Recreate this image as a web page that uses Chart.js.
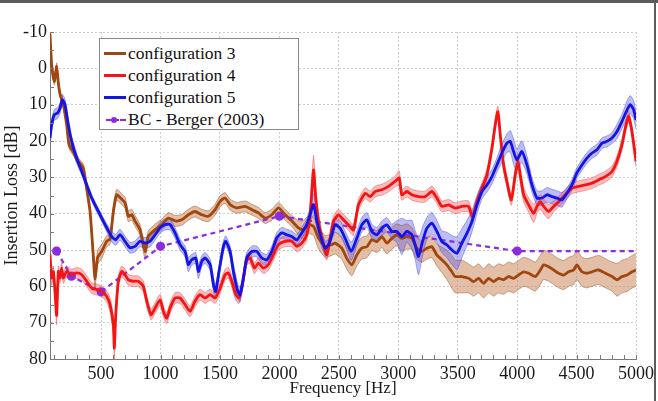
<!DOCTYPE html>
<html>
<head>
<meta charset="utf-8">
<script src="https://cdn.jsdelivr.net/npm/chart.js@4.4.1/dist/chart.umd.min.js"></script>
<style>
  html, body { margin:0; padding:0; background:#fff; }
  #wrap { position:relative; width:658px; height:401px; overflow:hidden; }
  #c { position:absolute; left:0; top:0; }
  .frameTop { position:absolute; left:0; top:0; width:658px; height:3px; background:#5c5c5c; }
  .frameRight { position:absolute; left:654px; top:0; width:2px; height:401px; background:#5c5c5c; }
  #legend { position:absolute; left:99px; top:38px; width:198px; height:90px; border:1px solid #8a8a8a; background:#fff;
            font-family:'Liberation Serif'; font-size:17.5px; color:#111; }
  .row { position:absolute; left:0; height:20px; width:196px; }
  .row .txt { position:absolute; left:28px; top:0; line-height:20px; white-space:nowrap; font-family:'Liberation Serif'; }
  .row .ln { position:absolute; left:4px; top:9px; width:22px; height:0; border-top:3px solid; }
  .row .dash { position:absolute; left:6px; top:10px; width:20px; height:0; border-top:2px dashed #8C2BE0; }
  .row .dot { position:absolute; left:11px; top:8px; width:6px; height:6px; border-radius:3px; background:#8C2BE0; }
</style>
</head>
<body>
<div id="wrap">
  <canvas id="c" width="658" height="401"></canvas>
  <div id="legend">
    <div class="row" style="top:4px"><div class="ln" style="border-color:#A0460F"></div><div class="txt">configuration 3</div></div>
    <div class="row" style="top:26px"><div class="ln" style="border-color:#F51414"></div><div class="txt">configuration 4</div></div>
    <div class="row" style="top:48px"><div class="ln" style="border-color:#1414E6"></div><div class="txt">configuration 5</div></div>
    <div class="row" style="top:70px"><div class="dash"></div><div class="dot"></div><div class="txt">BC - Berger (2003)</div></div>
  </div>
  <div class="frameTop"></div>
  <div class="frameRight"></div>
</div>
<script>
// ---------------- data ----------------
const xTicks = [500,1000,1500,2000,2500,3000,3500,4000,4500,5000];
const yTicks = [-10,0,10,20,30,40,50,60,70,80];

// configuration 3 (brown)
const freq3 = [70,84,106,126,140,154,182,210,230,266,
  308,350,378,407,435,449,471,505,547,575,
  603,631,673,701,729,757,785,827,870,898,
  954,1010,1066,1122,1178,1234,1290,1347,1403,1459,
  1501,1543,1585,1641,1711,1768,1824,1880,1936,1992,
  2048,2104,2160,2202,2245,2287,2329,2385,2441,2469,
  2525,2567,2609,2651,2693,2736,2778,2820,2862,2904,
  2946,2988,3030,3072,3114,3156,3198,3241,3283,3325,
  3367,3409,3451,3479,3535,3591,3633,3676,3718,3760,
  3802,3844,3886,3928,3970,4012,4055,4097,4153,4195,
  4223,4265,4307,4349,4391,4433,4475,4503,4545,4587,
  4630,4686,4742,4798,4840,4882,4925,4966,5000];
const il3 = [-9.5,-1,3.6,-0.5,4,7,10,15.5,21,23,
  25.6,27.4,33,39.4,52,58,52,50.4,47.6,47,
  39.4,34.8,36,37,40.7,40.3,42,44.4,50.4,46.2,
  44.4,43,41.2,42,41.7,40.3,39.4,40.3,40.7,38.9,
  36.6,35.7,37.5,38.4,38,38.9,39.8,41.2,40.3,38.4,
  40.3,42,43.9,44.4,43,43.5,46.7,49,48.5,48.1,
  49.5,52.3,54.1,51.4,49.5,49.1,47.2,47.7,46.3,48.1,
  46.8,45.8,46.8,46.3,46.8,49.5,50.4,49.5,49.1,51.4,
  52.7,54.1,56,57.3,57.3,57.8,58.7,57.8,59.2,57.8,
  58.7,57.8,58.2,57.3,57.8,56.9,56,56.4,57.3,55.5,
  54.1,54.6,55.5,56.4,56.9,56,55.5,54.1,56,56.4,
  56,55.5,56.4,57.3,58.2,57.3,56.9,56,55.5];
const sd3 = [1,1,1,1,1,1,1,1,1,1,
  1,1,1,1,2,2.5,2,2,1.5,1.5,
  1.5,1.5,1.5,1.5,1.5,1.5,1.5,1.5,2,1.5,
  1.5,1.5,1.5,1.5,1.5,1.5,1.5,1.5,1.5,1.5,
  1.5,1.5,1.5,1.5,1.5,1.5,1.5,1.5,1.5,1.5,
  1.5,1.5,2,2.5,2.5,2.5,3,3,3,3,
  3,3,3,3,3,3,3,3,3,3,
  3,3,3.5,3.5,3,3,3,3,3,3,
  3.5,4,4.5,4.5,4.5,4,4,4,4,4,
  4,4,4,4,4,4,4,4,4,4,
  4,4,4,4,4,4,4,4,4,4,
  4,4,4,4,4.5,4.5,4.5,4.5,4.5];

// configuration 4 (red)
const freq4 = [70,84,98,112,126,140,154,168,182,210,
  252,294,337,379,421,463,505,547,575,603,
  611,623,645,673,701,729,771,813,855,884,
  920,954,996,1024,1052,1080,1122,1164,1206,1248,
  1290,1332,1375,1417,1459,1501,1543,1571,1599,1633,
  1661,1689,1725,1753,1790,1824,1866,1908,1950,1992,
  2048,2104,2146,2188,2230,2258,2287,2306,2334,2371,
  2399,2427,2455,2497,2525,2581,2623,2665,2722,2764,
  2806,2862,2918,2974,3008,3030,3072,3114,3170,3227,
  3283,3325,3367,3423,3479,3535,3591,3625,3662,3704,
  3746,3788,3816,3838,3858,3886,3914,3951,3984,4007,
  4026,4055,4097,4139,4167,4195,4223,4265,4307,4349,
  4405,4461,4517,4573,4630,4686,4742,4798,4840,4882,
  4910,4938,4966,5000];
const il4 = [51.3,57.7,55.9,61.4,68,55.9,57.7,55,57.7,55.9,
  56.8,56.3,56.8,58.6,60.5,60.9,61.4,62.8,65,70.6,
  77,67.9,58.6,55.9,56.8,58.2,58.6,58.6,60,64.1,
  67.8,66,63.7,66.9,68.8,66,63.2,63.2,65,66.9,
  64.1,62.3,63.2,62.3,63.2,60.5,56.8,56.3,58.6,62.3,
  63.2,59.5,52.7,52.2,55,53.6,55,54,51.3,48.5,
  47.6,47.6,49,48.1,45.8,40.3,28,35.7,43,48.5,
  51.3,46.7,42.1,40.3,41.2,43.1,44.5,37.6,34.4,35.3,
  33.9,33.4,32.5,31.1,30.2,34.8,33.9,34.8,35.3,35.3,
  33.9,35.7,38,37.6,38.5,38,38,40.8,36.7,33,
  29.3,22,15.5,11.9,18.3,26.6,31.2,36.2,29.3,25.6,
  29.3,34.8,37.6,39.9,38,36.7,38,39.4,38,36.7,
  34.8,33,32.5,32.1,31.6,30.7,29.8,28.4,25.6,21,
  16.5,13.2,17.4,25.6];
const sd4 = [1.5,2,1.5,2,2.5,1.5,1.5,1.5,1.5,1.5,
  1.5,1.5,1.5,1.5,1.5,1.5,1.5,1.5,2,2.5,
  3,2.5,1.5,1.5,1.5,1.5,1.5,1.5,1.5,1.5,
  1.5,1.5,1.5,1.5,1.5,1.5,1.5,1.5,1.5,1.5,
  1.5,1.5,1.5,1.5,1.5,1.5,1.5,1.5,1.5,1.5,
  1.5,1.5,1.5,1.5,1.5,1.5,1.5,1.5,1.5,1.5,
  1.5,1.5,1.5,1.5,1.5,2,4,2.5,1.5,1.5,
  1.5,1.5,1.5,1.5,1.5,1.5,1.5,1.5,1.5,1.5,
  1.5,1.5,1.5,1.5,2,1.5,1.5,1.5,1.5,1.5,
  1.5,1.5,1.5,1.5,1.5,1.5,1.5,1.5,1.5,1.5,
  1.5,1.5,1.5,1.5,1.5,1.5,1.5,1.5,2,2,
  2,2,2,2.5,2,2,2,2,1.5,1.5,
  1.5,1.5,1.5,1.5,1.5,1.5,1.5,1.5,1.5,1.5,
  1.5,1.5,1.5,1.5];

// configuration 5 (blue)
const freq5 = [70,84,106,134,154,174,196,224,252,294,
  337,379,421,477,533,589,623,659,701,743,
  785,827,870,912,954,996,1038,1080,1122,1164,
  1206,1234,1262,1296,1318,1347,1375,1417,1445,1464,
  1492,1529,1549,1585,1613,1650,1669,1697,1725,1768,
  1810,1852,1894,1936,1978,2020,2062,2104,2146,2188,
  2230,2258,2287,2315,2351,2385,2413,2441,2469,2511,
  2553,2604,2651,2693,2736,2778,2820,2862,2904,2946,
  2988,3030,3072,3114,3142,3170,3204,3241,3283,3325,
  3367,3409,3451,3493,3535,3577,3619,3662,3704,3746,
  3788,3830,3872,3914,3942,3970,3998,4040,4083,4125,
  4167,4209,4251,4293,4335,4377,4419,4461,4503,4545,
  4587,4630,4672,4714,4756,4798,4840,4882,4925,4952,
  4980,5000];
const il5 = [19.2,15.5,12.8,12.3,11,8.7,10,15.5,20.1,24.7,
  28.4,32.1,35.7,39.4,43,46.3,47.2,45.8,47.6,49.4,
  49,47.6,48.1,47.6,45.8,43.9,43,43,45.3,48.5,
  50.4,54,52.7,52.2,55.9,53.1,52.2,54,59.5,61.4,
  55.9,49,47.6,50.4,55.9,61.4,62.3,57.7,52.2,50.4,
  50.4,52.2,52.7,50.4,46.7,45.3,45.8,46.3,47.2,45.3,
  43,40.3,37.5,42.1,46.7,49.5,48.6,45.8,43.1,44,
  46.8,50.4,46.8,43.1,41.7,44.9,45.8,44,43.1,44.9,
  44.9,46.3,44.9,45.8,48.6,51.8,47.7,44,42.6,44.9,
  47.7,48.6,50,50.9,48.1,45.4,42.2,37.6,33.9,32.1,
  29.8,26.6,23.3,20.6,20.1,22.9,25.2,22.9,26.6,32.1,
  35.7,35.7,34.8,35.3,35.7,36.2,34.4,32.1,28.8,26.6,
  24.7,23.3,22.4,20.6,20.1,19.2,17.4,14.6,11.4,10,
  11.4,14.2];
const sd5 = [1.5,1.5,1.5,1.5,1.5,1.5,1.5,1.5,1.5,1.5,
  1,1,1,1,1,1.5,1.5,1.5,1.5,1.5,
  1.5,1.5,1.5,1.5,1.5,1.5,1.5,1.5,1.5,1.5,
  1.5,2,1.5,1.5,2,1.5,1.5,1.5,2,2,
  1.5,1.5,1.5,1.5,2,2,2,1.5,1.5,1.5,
  1.5,1.5,1.5,1.5,1.5,1.5,1.5,1.5,1.5,1.5,
  1.5,2,3,2,2,2,1.5,1.5,2,2,
  2,2.5,2,2,2,2,2,2,2,2,
  3,5,3,4,4,5,4,3,3,3,
  3,3.5,4,4.5,4,3.5,3,2.5,2,2,
  2,2,2.5,2.5,3,3.5,3,3,2.5,2,
  2,2,2,2,2,2,1.5,1.5,1.5,1.5,
  1.5,1.5,1.5,1.5,1.5,1.5,2,2,2.5,2.5,
  2.5,2.5];

// BC - Berger (2003)
const freqB = [125,250,500,1000,2000,4000,5000];
const ilB = [50.3,57.2,61.5,49,40.7,50.3,50.3];
const markB = [true,true,true,true,true,true,false];

// ---------------- build ----------------
const pts = (f, v) => f.map((x, i) => ({x, y: v[i]}));
const band = (f, v, s, sign) => f.map((x, i) => ({x, y: v[i] + sign * s[i]}));

const SERIF = "'Liberation Serif'";
Chart.defaults.font.family = SERIF;

function bandSets(f, v, s, fillCol, edgeCol) {
  return [
    { data: band(f, v, s, -1), borderColor: edgeCol, borderWidth: 0.8, pointRadius: 0, fill: false, tension: 0.2 },
    { data: band(f, v, s, 1), borderColor: edgeCol, borderWidth: 0.8, pointRadius: 0, fill: '-1', backgroundColor: fillCol, tension: 0.2 }
  ];
}

const lineSet = (data, col) => ({ data, borderColor: col, borderWidth: 2.8, pointRadius: 0, fill: false, tension: 0.2 });

const datasets = [
  lineSet(pts(freq5, il5), '#1414E6'),
  lineSet(pts(freq4, il4), '#F51414'),
  { data: pts(freqB, ilB), borderColor: '#8C2BE0', borderWidth: 2.2, borderDash: [5, 4], fill: false, tension: 0,
    pointRadius: markB.map(m => m ? 3.5 : 0), pointBackgroundColor: '#8C2BE0', pointBorderColor: '#8C2BE0' },
  lineSet(pts(freq3, il3), '#A0460F'),
  ...bandSets(freq5, il5, sd5, 'rgba(95,95,240,0.42)', 'rgba(70,70,220,0.55)'),
  ...bandSets(freq4, il4, sd4, 'rgba(255,95,95,0.42)', 'rgba(235,60,60,0.55)'),
  ...bandSets(freq3, il3, sd3, 'rgba(200,128,82,0.5)', 'rgba(150,75,30,0.6)')
];

const minorTicks = {
  id: 'minorTicks',
  afterDatasetsDraw(chart) {
    const {ctx, chartArea: a, scales: {x, y}} = chart;
    ctx.save();
    ctx.strokeStyle = '#7a7a7a';
    ctx.lineWidth = 1;
    ctx.beginPath();
    for (let f = 100; f <= 5000; f += 100) {
      if (f < x.min) continue;
      const px = Math.round(x.getPixelForValue(f)) + 0.5;
      ctx.moveTo(px, a.bottom);
      ctx.lineTo(px, a.bottom - 4);
    }
    for (let v = -10; v <= 80; v += 5) {
      const py = Math.round(y.getPixelForValue(v)) + 0.5;
      ctx.moveTo(a.left, py);
      ctx.lineTo(a.left + 4, py);
    }
    ctx.stroke();
    ctx.restore();
  }
};

const tickFont = { family: SERIF, size: 18 };
const titleFontX = { family: SERIF, size: 17 };
const titleFontY = { family: SERIF, size: 18 };

new Chart(document.getElementById('c'), {
  type: 'line',
  data: { datasets },
  plugins: [minorTicks],
  options: {
    responsive: false,
    animation: false,
    layout: { padding: { top: 32, right: 22, left: 0, bottom: 0 } },
    plugins: {
      legend: { display: false },
      tooltip: { enabled: false },
      filler: { drawTime: 'beforeDatasetsDraw' }
    },
    scales: {
      x: {
        type: 'linear', min: 70, max: 5000,
        afterBuildTicks: s => { s.ticks = xTicks.map(v => ({value: v})); },
        afterFit: s => { s.height = 42; },
        grid: { color: '#cfcfcf', drawTicks: false },
        border: { display: true, color: '#7a7a7a', width: 1, dash: [2, 2] },
        ticks: { padding: 4, maxRotation: 0, autoSkip: false, color: '#1a1a1a', font: tickFont,
                 callback: v => String(v) },
        title: { display: true, text: 'Frequency [Hz]', color: '#1a1a1a', font: titleFontX, padding: { top: 0, bottom: 2 } }
      },
      y: {
        type: 'linear', min: -10, max: 80, reverse: true,
        afterBuildTicks: s => { s.ticks = yTicks.map(v => ({value: v})); },
        afterFit: s => { s.width = 50; },
        grid: { color: '#cfcfcf', drawTicks: false },
        border: { display: true, color: '#7a7a7a', width: 1, dash: [2, 2] },
        ticks: { padding: 3, color: '#1a1a1a', font: tickFont, callback: v => String(v) },
        title: { display: true, text: 'Insertion Loss [dB]', color: '#1a1a1a', font: titleFontY, padding: { top: 1, bottom: 0 } }
      }
    }
  }
});
</script>
</body>
</html>
